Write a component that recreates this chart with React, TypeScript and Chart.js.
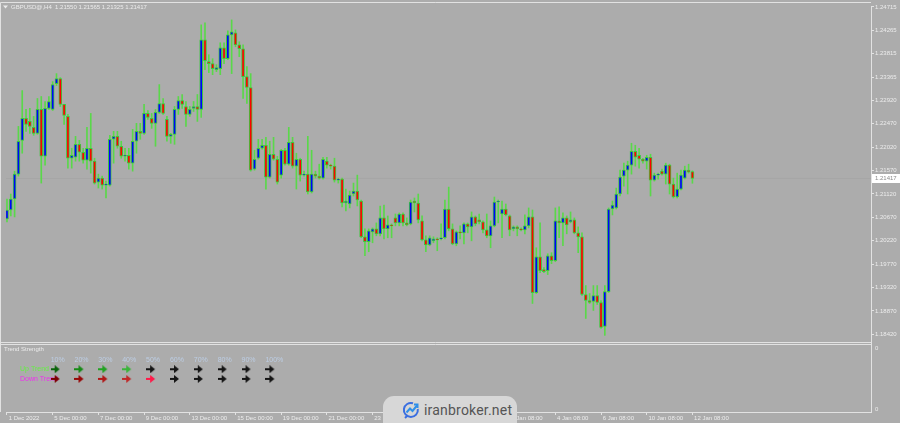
import React, { useEffect, useRef } from "react";
import { Chart, registerables } from "chart.js";
Chart.register(...registerables);

// ---------- DATA ----------
const symbolTitle = "GBPUSD@,H4";
const bidPrice = 1.21417;

const opens = [
  1.20640, 1.20812, 1.21023, 1.21501, 1.22151, 1.22573, 1.22515, 1.22400, 1.22286, 1.22745,
  1.21845, 1.22764, 1.22745, 1.23242, 1.23338, 1.22841, 1.22611, 1.21807, 1.21826, 1.22075,
  1.21922, 1.21769, 1.21999, 1.21750, 1.21348, 1.21425, 1.21290, 1.21290, 1.22171, 1.22228,
  1.22037, 1.21845, 1.21864, 1.21712, 1.22133, 1.22324, 1.22286, 1.22668, 1.22573, 1.22477,
  1.22687, 1.22860, 1.22554, 1.22228, 1.22267, 1.22745, 1.22917, 1.22802, 1.22649, 1.22764,
  1.22802, 1.22745, 1.24084, 1.23663, 1.23625, 1.23510, 1.23529, 1.23931, 1.23721, 1.24180,
  1.24218, 1.23988, 1.23912, 1.23376, 1.23166, 1.21597, 1.21807, 1.21999, 1.22056, 1.21444,
  1.21884, 1.21788, 1.21482, 1.21960, 1.21692, 1.22113, 1.21654, 1.21788, 1.21482, 1.21501,
  1.21157, 1.21501, 1.21463, 1.21425, 1.21750, 1.21673, 1.21654, 1.21386, 1.21406, 1.20946,
  1.20927, 1.21119, 1.21176, 1.20984, 1.20296, 1.20200, 1.20391, 1.20448, 1.20353, 1.20659,
  1.20448, 1.20525, 1.20659, 1.20563, 1.20735, 1.20563, 1.20544, 1.20984, 1.20946, 1.20602,
  1.20238, 1.20142, 1.20219, 1.20257, 1.20257, 1.20277, 1.20831, 1.20448, 1.20161, 1.20391,
  1.20372, 1.20544, 1.20487, 1.20678, 1.20621, 1.20583, 1.20429, 1.20315, 1.20506, 1.20965,
  1.20735, 1.20831, 1.20697, 1.20448, 1.20487, 1.20448, 1.20429, 1.20506, 1.20678, 1.19224,
  1.19913, 1.19664, 1.19645, 1.19932, 1.19836, 1.20602, 1.20563, 1.20659, 1.20583, 1.20621,
  1.20372, 1.20296, 1.19186, 1.19071, 1.19052, 1.19167, 1.19033, 1.18574, 1.19243, 1.20831,
  1.20851, 1.21119, 1.21463, 1.21577, 1.21673, 1.21941, 1.21864, 1.21788, 1.21750, 1.21826,
  1.21386, 1.21482, 1.21558, 1.21501, 1.21673, 1.21310, 1.21061, 1.21214, 1.21425, 1.21577,
  1.21550,
];

const highs = [
  1.21023, 1.21119, 1.21558, 1.22419, 1.23108, 1.22745, 1.22764, 1.22611, 1.22956, 1.22994,
  1.22898, 1.22994, 1.23280, 1.23434, 1.23357, 1.22841, 1.22649, 1.21999, 1.22228, 1.22151,
  1.21999, 1.22400, 1.22668, 1.21807, 1.21501, 1.21463, 1.21367, 1.22247, 1.22324, 1.22324,
  1.22133, 1.21999, 1.21999, 1.22362, 1.22477, 1.22477, 1.22841, 1.22725, 1.22668, 1.22745,
  1.23223, 1.22956, 1.22611, 1.22286, 1.22802, 1.22994, 1.23032, 1.22898, 1.22802, 1.22898,
  1.23032, 1.24371, 1.24409, 1.23797, 1.23721, 1.23606, 1.24027, 1.24027, 1.24256, 1.24467,
  1.24275, 1.24046, 1.23988, 1.23567, 1.23434, 1.21960, 1.22171, 1.22171, 1.22209, 1.22133,
  1.22209, 1.21845, 1.21980, 1.21999, 1.22400, 1.22209, 1.21903, 1.21807, 1.21558, 1.22228,
  1.21960, 1.21558, 1.21692, 1.21826, 1.21826, 1.21692, 1.21807, 1.21425, 1.21425, 1.21214,
  1.21176, 1.21329, 1.21482, 1.21003, 1.20448, 1.20448, 1.20467, 1.20563, 1.20889, 1.20908,
  1.20697, 1.20544, 1.20735, 1.20755, 1.20755, 1.20659, 1.21003, 1.21042, 1.21119, 1.20697,
  1.20315, 1.20315, 1.20296, 1.20277, 1.20544, 1.21003, 1.21252, 1.20544, 1.20410, 1.20506,
  1.20563, 1.20563, 1.20774, 1.20697, 1.20735, 1.20602, 1.20735, 1.20602, 1.21061, 1.21003,
  1.20984, 1.20927, 1.20716, 1.20506, 1.20506, 1.20467, 1.20716, 1.20851, 1.20812, 1.20085,
  1.20563, 1.19703, 1.19970, 1.19990, 1.20851, 1.20870, 1.20755, 1.20697, 1.20774, 1.20659,
  1.20487, 1.20372, 1.19358, 1.19205, 1.19358, 1.19358, 1.19071, 1.19358, 1.20851, 1.20984,
  1.21233, 1.21577, 1.21712, 1.21750, 1.22094, 1.22056, 1.21999, 1.21807, 1.21864, 1.21884,
  1.21520, 1.21520, 1.21597, 1.21712, 1.21692, 1.21425, 1.21520, 1.21577, 1.21654, 1.21692,
  1.21565,
];

const lows = [
  1.20583, 1.20697, 1.20678, 1.21463, 1.21903, 1.22324, 1.22286, 1.22247, 1.22267, 1.21329,
  1.21673, 1.22745, 1.22725, 1.23204, 1.22802, 1.22458, 1.21616, 1.21616, 1.21750, 1.21750,
  1.21712, 1.21597, 1.21520, 1.21310, 1.21233, 1.21214, 1.21042, 1.21271, 1.21712, 1.21999,
  1.21807, 1.21750, 1.21597, 1.21558, 1.21903, 1.22171, 1.22267, 1.22554, 1.22381, 1.22037,
  1.22668, 1.22649, 1.22133, 1.22094, 1.22075, 1.22649, 1.22764, 1.22419, 1.22611, 1.22706,
  1.22515, 1.22592, 1.23510, 1.23453, 1.23414, 1.23472, 1.23414, 1.23625, 1.23701, 1.23434,
  1.23950, 1.23759, 1.22956, 1.22860, 1.21558, 1.21577, 1.21788, 1.21980, 1.21214, 1.21425,
  1.21769, 1.21310, 1.21425, 1.21673, 1.21673, 1.21616, 1.21214, 1.21367, 1.21463, 1.21119,
  1.21138, 1.21425, 1.21406, 1.21406, 1.21616, 1.21597, 1.21348, 1.21329, 1.20870, 1.20793,
  1.20851, 1.21080, 1.20889, 1.20277, 1.19932, 1.20009, 1.20181, 1.20315, 1.20315, 1.20257,
  1.20277, 1.20277, 1.20506, 1.20506, 1.20506, 1.20506, 1.20525, 1.20774, 1.20563, 1.20219,
  1.20009, 1.20123, 1.20181, 1.20028, 1.20238, 1.20257, 1.20410, 1.20142, 1.20123, 1.20257,
  1.20161, 1.20372, 1.20219, 1.20506, 1.20544, 1.20372, 1.20277, 1.20085, 1.20487, 1.20563,
  1.20277, 1.20697, 1.20315, 1.20410, 1.20315, 1.20410, 1.20353, 1.20467, 1.19014, 1.19205,
  1.19607, 1.19607, 1.19569, 1.19779, 1.19817, 1.20277, 1.20123, 1.20353, 1.20563, 1.20353,
  1.19990, 1.19167, 1.18726, 1.19014, 1.18880, 1.18994, 1.18536, 1.18401, 1.19224, 1.20716,
  1.20831, 1.21080, 1.21271, 1.21119, 1.21501, 1.21654, 1.21616, 1.21712, 1.21597, 1.21080,
  1.21367, 1.21406, 1.21482, 1.21310, 1.21119, 1.21042, 1.21042, 1.21195, 1.21406, 1.21520,
  1.21325,
];

const closes = [
  1.20812, 1.21023, 1.21501, 1.22133, 1.22573, 1.22458, 1.22419, 1.22286, 1.22745, 1.21845,
  1.22764, 1.22898, 1.23223, 1.23338, 1.22841, 1.22630, 1.21807, 1.21864, 1.22075, 1.21922,
  1.21769, 1.21999, 1.21750, 1.21329, 1.21425, 1.21290, 1.21310, 1.22171, 1.22228, 1.22037,
  1.21845, 1.21864, 1.21712, 1.22133, 1.22324, 1.22286, 1.22668, 1.22592, 1.22477, 1.22687,
  1.22860, 1.22668, 1.22228, 1.22267, 1.22745, 1.22917, 1.22841, 1.22649, 1.22745, 1.22802,
  1.22745, 1.24084, 1.23682, 1.23625, 1.23529, 1.23548, 1.23931, 1.23721, 1.24180, 1.24237,
  1.23988, 1.23912, 1.23376, 1.23166, 1.21577, 1.21788, 1.21999, 1.22056, 1.21444, 1.21884,
  1.21788, 1.21348, 1.21960, 1.21692, 1.22113, 1.21654, 1.21788, 1.21482, 1.21501, 1.21157,
  1.21501, 1.21463, 1.21425, 1.21788, 1.21673, 1.21654, 1.21386, 1.21406, 1.20946, 1.20984,
  1.21099, 1.21176, 1.21003, 1.20296, 1.20200, 1.20410, 1.20448, 1.20353, 1.20659, 1.20448,
  1.20525, 1.20506, 1.20563, 1.20735, 1.20563, 1.20525, 1.20965, 1.20946, 1.20621, 1.20238,
  1.20142, 1.20277, 1.20257, 1.20238, 1.20277, 1.20831, 1.20448, 1.20161, 1.20391, 1.20372,
  1.20544, 1.20487, 1.20678, 1.20544, 1.20583, 1.20429, 1.20315, 1.20506, 1.20965, 1.20984,
  1.20831, 1.20716, 1.20429, 1.20487, 1.20448, 1.20429, 1.20506, 1.20678, 1.19224, 1.19913,
  1.19645, 1.19626, 1.19932, 1.19836, 1.20602, 1.20563, 1.20659, 1.20525, 1.20621, 1.20372,
  1.20296, 1.19186, 1.19071, 1.19033, 1.19167, 1.19033, 1.18555, 1.19243, 1.20831, 1.20908,
  1.21119, 1.21444, 1.21577, 1.21673, 1.21941, 1.21826, 1.21788, 1.21750, 1.21826, 1.21386,
  1.21482, 1.21501, 1.21501, 1.21673, 1.21310, 1.21061, 1.21214, 1.21482, 1.21577, 1.21539,
  1.21417,
];

const priceTicks = [
  1.18420, 1.18870, 1.19320, 1.19770, 1.20220, 1.20670, 1.21120, 1.21570,
  1.22020, 1.22470, 1.22920, 1.23365, 1.23815, 1.24265, 1.24715,
];

const timeTickBars = [0, 12, 24, 36, 48, 60, 72, 84, 96, 108, 120, 132, 144, 156, 168, 180];
const timeTickLabels = [
  "1 Dec 2022", "5 Dec 00:00", "7 Dec 00:00", "9 Dec 00:00", "13 Dec 00:00", "15 Dec 00:00",
  "19 Dec 00:00", "21 Dec 00:00", "23 Dec 00:00", "27 Dec 04:00", "29 Dec 04:00", "2 Jan 08:00",
  "4 Jan 08:00", "6 Jan 08:00", "10 Jan 08:00", "12 Jan 08:00",
];

const strengthLevels = ["10%", "20%", "30%", "40%", "50%", "60%", "70%", "80%", "90%", "100%"];
const upArrowColors = ["#0a640a", "#168a16", "#22a222", "#3ab43a", "#151515", "#151515", "#151515", "#151515", "#151515", "#151515"];
const downArrowColors = ["#7a0000", "#960808", "#b01818", "#c02828", "#ff1848", "#151515", "#151515", "#151515", "#151515", "#151515"];
const trendRowNames = ["Up Trend", "Down Trend"];

// ---------- STYLE ----------
const BG = "#acacac";
const FRAME = "#e2e2e2";
const TXT = "#ececec";
const FONT = '"Liberation Sans", Arial, sans-serif';
const WICK = "#5ad84a";
const EDGE = "#3cc83c";
const BULL = "#0000ff";
const BEAR = "#ff0000";

function makeArrow(color: string): HTMLCanvasElement {
  const c = document.createElement("canvas");
  c.width = 10;
  c.height = 8;
  const g = c.getContext("2d")!;
  g.fillStyle = color;
  g.fillRect(0, 3, 5, 2);
  g.beginPath();
  g.moveTo(4, 0);
  g.lineTo(9, 4);
  g.lineTo(4, 8);
  g.closePath();
  g.fill();
  return c;
}

export default function App() {
  const ref = useRef<HTMLCanvasElement | null>(null);

  useEffect(() => {
    document.body.style.margin = "0";
    const canvas = ref.current!;
    const n = opens.length;
    const bodies = opens.map((o, i) => ({ x: i, y: [o, closes[i]] }));
    const wicks = lows.map((l, i) => ({ x: i, y: [l, highs[i]] }));
    const bodyColors = opens.map((o, i) => (closes[i] >= o ? BULL : BEAR));

    const xMin = -0.26;
    const xMax = 226.9;

    const arrowPts: { x: number; y: number }[] = [];
    const arrowStyles: HTMLCanvasElement[] = [];
    strengthLevels.forEach((_, c) => {
      arrowPts.push({ x: c + 1, y: 2 });
      arrowStyles.push(makeArrow(upArrowColors[c]));
    });
    strengthLevels.forEach((_, c) => {
      arrowPts.push({ x: c + 1, y: 1 });
      arrowStyles.push(makeArrow(downArrowColors[c]));
    });

    const chrome = {
      id: "mtChrome",
      beforeDraw(chart: any) {
        const { ctx, chartArea: a } = chart;
        ctx.save();
        ctx.fillStyle = BG;
        ctx.fillRect(0, 0, chart.width, chart.height);
        ctx.strokeStyle = FRAME;
        ctx.lineWidth = 1;
        ctx.beginPath();
        ctx.moveTo(0.5, a.bottom);
        ctx.lineTo(0.5, 2.5);
        ctx.lineTo(a.right, 2.5);
        ctx.moveTo(0, 342.5);
        ctx.lineTo(a.right, 342.5);
        ctx.moveTo(0, 344.5);
        ctx.lineTo(a.right, 344.5);
        ctx.stroke();
        ctx.restore();
      },
      beforeDatasetsDraw(chart: any) {
        const { ctx, chartArea: a } = chart;
        const xs = chart.scales.xs;
        const ys = chart.scales.ys;
        ctx.save();
        ctx.font = `6px ${FONT}`;
        ctx.textBaseline = "middle";
        ctx.textAlign = "left";
        ctx.fillStyle = TXT;
        ctx.beginPath();
        ctx.moveTo(3, 5.5);
        ctx.lineTo(8, 5.5);
        ctx.lineTo(5.5, 8.5);
        ctx.closePath();
        ctx.fill();
        ctx.fillText(
          `${symbolTitle}  ${opens[n - 1].toFixed(5)} ${highs[n - 1].toFixed(5)} ${lows[n - 1].toFixed(5)} ${closes[n - 1].toFixed(5)}`,
          11, 7.5
        );
        ctx.fillText("Trend Strength", 4, 349.5);
        ctx.fillText("0", a.right + 4, 348.5);
        ctx.fillText("0", a.right + 4, 409.5);
        ctx.fillStyle = "#bccde4";
        ctx.font = `7px ${FONT}`;
        strengthLevels.forEach((s, c) => {
          ctx.fillText(s, xs.getPixelForValue(c + 1) - 5, ys.getPixelForValue(3));
        });
        ctx.fillStyle = "#66ee44";
        ctx.fillText(trendRowNames[0], 20, ys.getPixelForValue(2));
        ctx.fillStyle = "#ee30ee";
        ctx.fillText(trendRowNames[1], 20, ys.getPixelForValue(1));
        ctx.restore();
      },
      afterDraw(chart: any) {
        const { ctx, chartArea: a } = chart;
        const y = chart.scales.y.getPixelForValue(bidPrice);
        ctx.save();
        ctx.fillStyle = "#ffffff";
        ctx.fillRect(a.right + 1, Math.round(y) - 4, 28, 9);
        ctx.fillStyle = "#8a8a8a";
        ctx.font = `6px ${FONT}`;
        ctx.textBaseline = "middle";
        ctx.textAlign = "left";
        ctx.fillText(bidPrice.toFixed(5), a.right + 4, Math.round(y) + 0.5);
        ctx.restore();
      },
    };

    const chart = new Chart(canvas, {
      type: "bar",
      data: {
        datasets: [
          {
            type: "bar",
            label: "bodies",
            data: bodies as any,
            backgroundColor: bodyColors,
            borderColor: EDGE,
            borderWidth: 1,
            borderSkipped: false,
            barThickness: 3,
            minBarLength: 1,
            grouped: false,
            order: 0,
            xAxisID: "x",
            yAxisID: "y",
          } as any,
          {
            type: "bar",
            label: "wicks",
            data: wicks as any,
            backgroundColor: WICK,
            borderWidth: 0,
            barThickness: 1,
            grouped: false,
            order: 1,
            xAxisID: "x",
            yAxisID: "y",
          } as any,
          {
            type: "line",
            label: "bid",
            data: [
              { x: xMin, y: bidPrice },
              { x: xMax, y: bidPrice },
            ],
            borderColor: "#a6a6a6",
            borderWidth: 1,
            pointRadius: 0,
            order: 2,
            xAxisID: "x",
            yAxisID: "y",
          } as any,
          {
            type: "scatter",
            label: "strength",
            data: arrowPts,
            pointStyle: arrowStyles as any,
            pointRadius: 5,
            order: -1,
            xAxisID: "xs",
            yAxisID: "ys",
          } as any,
        ],
      },
      options: {
        animation: false,
        responsive: false,
        devicePixelRatio: 1,
        events: [],
        layout: { padding: { top: 4, left: 1, right: 0, bottom: 0 } },
        plugins: { legend: { display: false }, tooltip: { enabled: false } },
        scales: {
          x: {
            type: "linear",
            min: xMin,
            max: xMax,
            offset: false,
            afterFit: (s: any) => {
              s.height = 11;
            },
            afterBuildTicks: (s: any) => {
              s.ticks = timeTickBars.map((v) => ({ value: v }));
            },
            grid: { display: true, drawOnChartArea: false, drawTicks: true, tickLength: 3, color: FRAME, offset: false },
            border: { display: true, color: FRAME },
            ticks: {
              autoSkip: false,
              maxRotation: 0,
              minRotation: 0,
              align: "start",
              padding: 0,
              color: TXT,
              font: { family: FONT, size: 6 },
              callback: (v: any) => {
                const k = timeTickBars.indexOf(v);
                return k >= 0 ? " " + timeTickLabels[k] : "";
              },
            },
          } as any,
          y: {
            type: "linear",
            position: "right",
            min: 1.16927,
            max: 1.24734,
            afterFit: (s: any) => {
              s.width = 29;
            },
            afterBuildTicks: (s: any) => {
              s.ticks = priceTicks.map((v) => ({ value: v }));
            },
            grid: { display: true, drawOnChartArea: false, drawTicks: true, tickLength: 3, color: FRAME },
            border: { display: true, color: FRAME },
            ticks: {
              padding: 1,
              color: TXT,
              font: { family: FONT, size: 6 },
              callback: (v: any) => Number(v).toFixed(5),
            },
          } as any,
          xs: { type: "linear", display: false, offset: false, grid: { offset: false }, min: -1.08, max: 35.17 } as any,
          ys: { type: "linear", display: false, offset: false, min: -2.43, max: 39.63 } as any,
        },
      } as any,
      plugins: [chrome as any],
    });
    return () => chart.destroy();
  }, []);

  return (
    <div style={{ position: "fixed", left: 0, top: 0, width: 900, height: 423, background: BG, overflow: "hidden" }}>
      <canvas ref={ref} width={900} height={423} style={{ display: "block", width: 900, height: 423 }} />
      <div
        style={{
          position: "absolute",
          left: 383,
          top: 396,
          width: 134,
          height: 40,
          borderRadius: 11,
          background: "#d7d7d7",
          display: "flex",
          alignItems: "flex-start",
          paddingTop: 5,
          boxSizing: "border-box",
        }}
      >
        <svg width="18" height="18" viewBox="0 0 18 18" style={{ marginLeft: 19, marginTop: 0 }}>
          <path d="M11 2.3 A7 7 0 1 0 15.8 8" stroke="#3a6ee0" strokeWidth="2" fill="none" />
          <path d="M4.5 11.5 L8 7.5 L10.5 10 L15 4.5" stroke="#2f8fe8" strokeWidth="2" fill="none" />
          <path d="M12 3.5 L15.5 3.5 L15.5 7" stroke="#2f8fe8" strokeWidth="2" fill="none" />
          <path d="M5 15 L3 17" stroke="#3a6ee0" strokeWidth="2" />
        </svg>
        <span
          style={{
            marginLeft: 4,
            fontFamily: "Roboto, 'Open Sans', sans-serif",
            fontSize: 14,
            lineHeight: "18px",
            color: "#555555",
            letterSpacing: 0.2,
          }}
        >
          iranbroker.net
        </span>
      </div>
    </div>
  );
}
